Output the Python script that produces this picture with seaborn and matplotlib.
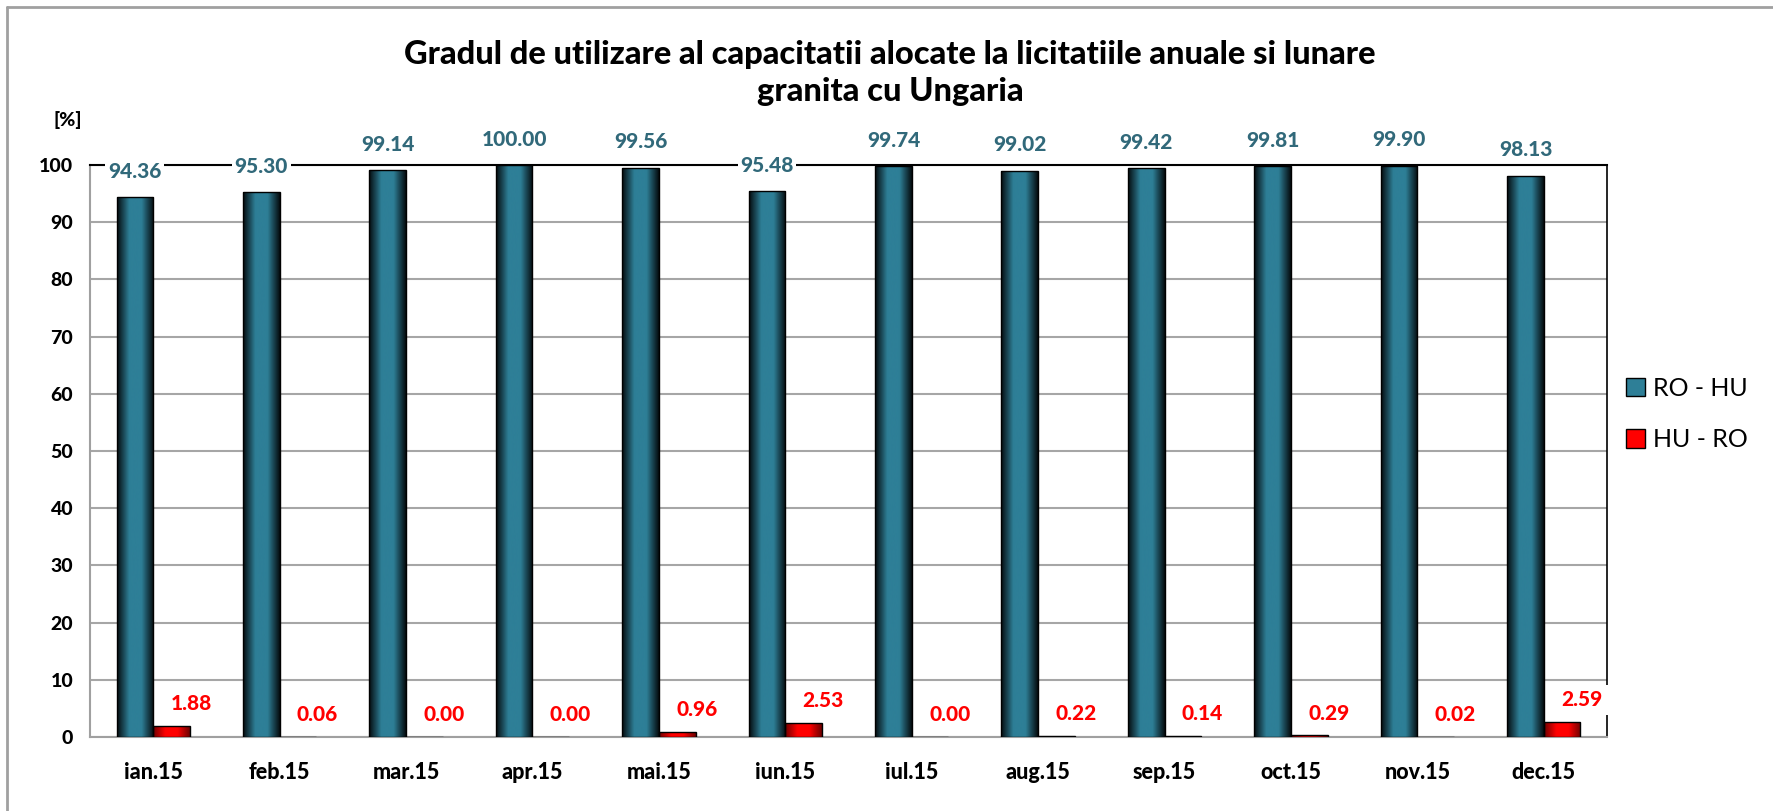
import numpy as np
import pandas as pd
import matplotlib
matplotlib.use("Agg")
import matplotlib.pyplot as plt
from matplotlib.colors import LinearSegmentedColormap
from matplotlib.patches import Patch
from matplotlib.lines import Line2D
import seaborn as sns

# date
luni = ["ian.15", "feb.15", "mar.15", "apr.15", "mai.15", "iun.15",
        "iul.15", "aug.15", "sep.15", "oct.15", "nov.15", "dec.15"]
ro_hu = [94.36, 95.30, 99.14, 100.00, 99.56, 95.48,
         99.74, 99.02, 99.42, 99.81, 99.90, 98.13]
hu_ro = [1.88, 0.06, 0.00, 0.00, 0.96, 2.53,
         0.00, 0.22, 0.14, 0.29, 0.02, 2.59]
serii = ["RO - HU", "HU - RO"]
culori = {"RO - HU": "#2E7F97", "HU - RO": "#FF0000"}
culori_margine = {"RO - HU": "#050D10", "HU - RO": "#700000"}
culori_text = {"RO - HU": "#31697A", "HU - RO": "#FF0000"}

df = pd.DataFrame({
    "luna": luni * 2,
    "valoare": ro_hu + hu_ro,
    "sens": [serii[0]] * len(luni) + [serii[1]] * len(luni),
})

sns.set_style("white")
plt.rcParams["font.family"] = ["Lato", "DejaVu Sans"]
plt.rcParams["text.color"] = "black"
plt.rcParams["xtick.labelcolor"] = "black"
plt.rcParams["ytick.labelcolor"] = "black"
GREU = 900  # cat mai apropiat de Calibri bold

fig = plt.figure(figsize=(17.74, 8.11), dpi=100)
ax = fig.add_axes([90 / 1774, 1 - 737 / 811, (1607 - 90) / 1774, (737 - 165) / 811])

sns.barplot(data=df, x="luna", y="valoare", hue="sens", palette=culori,
            width=0.58, gap=0, dodge=True, legend=False, ax=ax,
            edgecolor="black", linewidth=1.0, zorder=3)

# efect cilindric pe bare
for cont, s in zip(ax.containers, serii):
    cmap = LinearSegmentedColormap.from_list(
        s, [culori_margine[s], culori[s], culori[s], culori_margine[s]])
    grad = np.linspace(0, 1, 64).reshape(1, -1)
    for p in cont:
        x0, w, h = p.get_x(), p.get_width(), p.get_height()
        if h <= 0:
            continue
        p.set_facecolor("none")
        im = ax.imshow(grad, extent=[x0, x0 + w, 0, h], aspect="auto",
                       cmap=cmap, zorder=2.9, interpolation="bicubic")
        im.set_clip_path(p)
ax.set_ylim(0, 100)
ax.set_xlim(-0.5, len(luni) - 0.5)
ax.set_aspect("auto")

# etichete valori
for i, (a, b) in enumerate(zip(ro_hu, hu_ro)):
    ax.text(i - 0.145, a + 4.5, f"{a:.2f}", ha="center", va="center",
            fontsize=15, fontweight=GREU, color=culori_text["RO - HU"],
            bbox=dict(facecolor="white", edgecolor="none", pad=2), zorder=5,
            clip_on=False)
    ax.text(i + 0.3, b + 3.9, f"{b:.2f}", ha="center", va="center",
            fontsize=15, fontweight=GREU, color=culori_text["HU - RO"],
            bbox=dict(facecolor="white", edgecolor="none", pad=4), zorder=5)

# axe si grila
ax.set_yticks(range(0, 101, 10))
ax.set_xticks(range(len(luni)))
ax.set_xticklabels(luni)
ax.set_xticks(np.arange(-0.5, len(luni), 1), minor=True)
ax.tick_params(axis="x", which="major", length=0, pad=18, labelsize=15.5)
ax.tick_params(axis="x", which="minor", length=8, width=1.5, color="#A0A0A0")
ax.tick_params(axis="y", length=6, width=1.5, color="#A0A0A0", labelsize=14, pad=6)
for lbl in ax.get_xticklabels() + ax.get_yticklabels():
    lbl.set_fontweight(GREU)
    lbl.set_color("black")
ax.yaxis.grid(True, color="#A6A6A6", linewidth=1.5, zorder=0)
ax.set_axisbelow(True)
ax.set_xlabel("")
ax.set_ylabel("")
ax.spines["left"].set_color("#A0A0A0")
ax.spines["left"].set_linewidth(1.5)
ax.spines["bottom"].set_color("#A0A0A0")
ax.spines["bottom"].set_linewidth(1.5)
ax.spines["top"].set_color("black")
ax.spines["top"].set_linewidth(1.5)
ax.spines["right"].set_color("black")
ax.spines["right"].set_linewidth(1.2)

# titlu
fig.text(890 / 1774, 1 - 73 / 811,
         "Gradul de utilizare al capacitatii alocate la licitatiile anuale si lunare\ngranita cu Ungaria",
         ha="center", va="center", fontsize=23.5, fontweight=GREU, linespacing=1.3,
         color="black")
fig.text(68 / 1774, 1 - 120 / 811, "[%]", ha="center", va="center",
         fontsize=14, fontweight=GREU, color="black")

# legenda
handles = [Patch(facecolor=culori[s], edgecolor="black", linewidth=1) for s in serii]
leg = fig.legend(handles, serii, loc="center left",
                 bbox_to_anchor=(1604 / 1774, 1 - 414 / 811),
                 frameon=False, fontsize=18, handlelength=0.75, handleheight=0.75,
                 handletextpad=0.3, labelspacing=1.15)
for t in leg.get_texts():
    t.set_color("black")

# chenar
fig.add_artist(Line2D([7 / 1774, 1], [1 - 7 / 811] * 2, color="#A0A0A0", linewidth=2))
fig.add_artist(Line2D([7 / 1774] * 2, [0, 1 - 7 / 811], color="#A0A0A0", linewidth=2))

fig.savefig("out.png", dpi=100)
